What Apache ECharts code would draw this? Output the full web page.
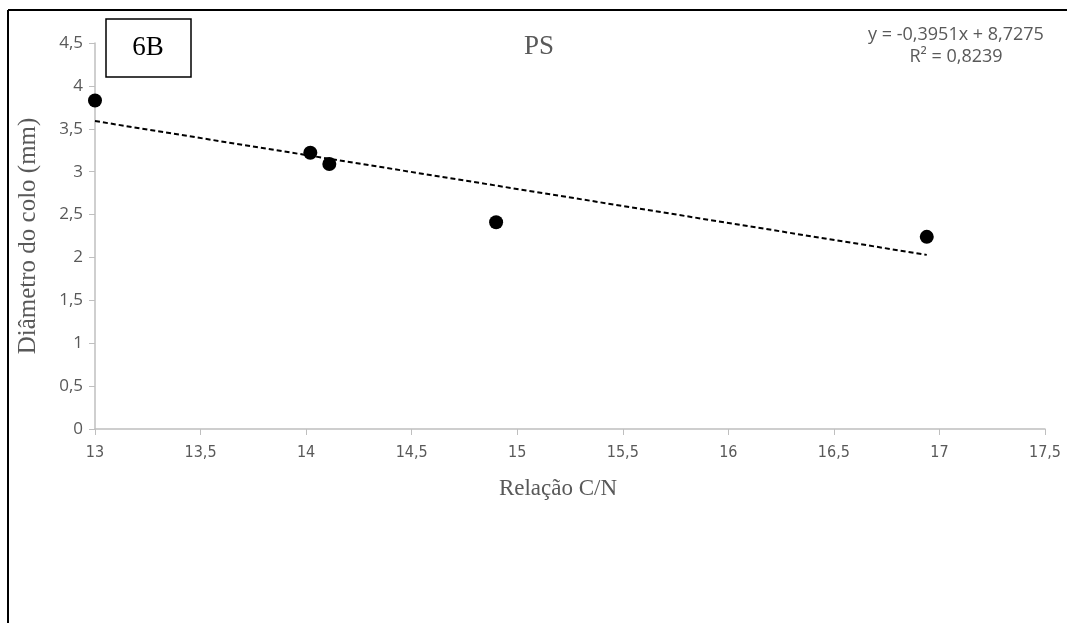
<!DOCTYPE html>
<html>
<head>
<meta charset="utf-8">
<script src="https://cdn.jsdelivr.net/npm/echarts@6/dist/echarts.min.js"></script>
<style>
  html, body { margin: 0; padding: 0; background: #fff; }
  #chart { width: 1067px; height: 623px; }
</style>
</head>
<body>
<div id="chart"></div>
<script>
// pontos (Relação C/N x Diâmetro do colo)
const relacaoCN = [13.0, 14.02, 14.11, 14.9, 16.94]
const diametro = [3.83, 3.22, 3.09, 2.41, 2.24]

// linha de tendência (extremos)
const trendX = [13.0, 16.94]
const trendY = [3.59, 2.03]

const equationLines = ['y = -0,3951x + 8,7275', 'R² = 0,8239']

const fmt = (v) => String(v).replace('.', ',')
const grey = '#595959'

const chart = echarts.init(document.getElementById('chart'), null, { renderer: 'canvas' })

chart.setOption({
  backgroundColor: '#fff',
  animation: false,
  grid: { left: 95, right: 22, top: 43, bottom: 194 },
  title: {
    text: 'PS',
    left: 519,
    top: 28,
    textStyle: { fontFamily: 'Liberation Serif', fontSize: 27, fontWeight: 'normal', color: grey }
  },
  xAxis: {
    type: 'value',
    min: 13,
    max: 17.5,
    interval: 0.5,
    name: 'Relação C/N',
    nameLocation: 'middle',
    nameGap: 48,
    nameTextStyle: { fontFamily: 'Liberation Serif', fontSize: 23, color: grey, padding: [0, 24, 0, 0] },
    axisLine: { lineStyle: { color: '#bfbfbf', width: 1.5 } },
    axisTick: { show: true, length: 6, lineStyle: { color: '#bfbfbf' } },
    axisLabel: {
      margin: 16,
      fontFamily: '"DejaVu Sans Condensed", "Liberation Sans Narrow", "Roboto Condensed", sans-serif',
      fontSize: 16,
      color: grey,
      formatter: fmt
    },
    splitLine: { show: false }
  },
  yAxis: {
    type: 'value',
    min: 0,
    max: 4.5,
    interval: 0.5,
    name: 'Diâmetro do colo (mm)',
    nameLocation: 'middle',
    nameGap: 54,
    nameTextStyle: { fontFamily: 'Liberation Serif', fontSize: 25, color: grey },
    axisLine: { show: true, lineStyle: { color: '#bfbfbf', width: 1.5 } },
    axisTick: { show: true, length: 6, lineStyle: { color: '#bfbfbf' } },
    axisLabel: {
      margin: 12,
      fontFamily: 'Open Sans',
      fontSize: 17,
      color: grey,
      formatter: fmt
    },
    splitLine: { show: false }
  },
  graphic: [
    // moldura (só topo e esquerda visíveis)
    { type: 'line', shape: { x1: 8, y1: 10, x2: 1067, y2: 10 }, style: { stroke: '#000', lineWidth: 2 } },
    { type: 'line', shape: { x1: 8, y1: 10, x2: 8, y2: 623 }, style: { stroke: '#000', lineWidth: 2 } },
    // caixa 6B
    {
      type: 'rect',
      shape: { x: 106, y: 19, width: 85, height: 58 },
      style: { fill: '#fff', stroke: '#000', lineWidth: 1.5 }
    },
    {
      type: 'text',
      x: 148, y: 48,
      style: {
        text: '6B', fill: '#000', fontFamily: 'Liberation Serif', fontSize: 27,
        textAlign: 'center', textVerticalAlign: 'middle'
      }
    },
    // equação da tendência
    {
      type: 'text',
      x: 956, y: 46,
      style: {
        text: equationLines.join('\n'), fill: grey, fontFamily: 'Open Sans', fontSize: 18,
        lineHeight: 22, textAlign: 'center', textVerticalAlign: 'middle'
      }
    }
  ],
  series: [
    {
      type: 'line',
      data: trendX.map((x, i) => [x, trendY[i]]),
      symbol: 'none',
      lineStyle: { color: '#000', width: 2, type: [5, 3] },
      z: 2
    },
    {
      type: 'scatter',
      data: relacaoCN.map((x, i) => [x, diametro[i]]),
      symbolSize: 14,
      itemStyle: { color: '#000', opacity: 1 },
      z: 3
    }
  ]
})
</script>
</body>
</html>
